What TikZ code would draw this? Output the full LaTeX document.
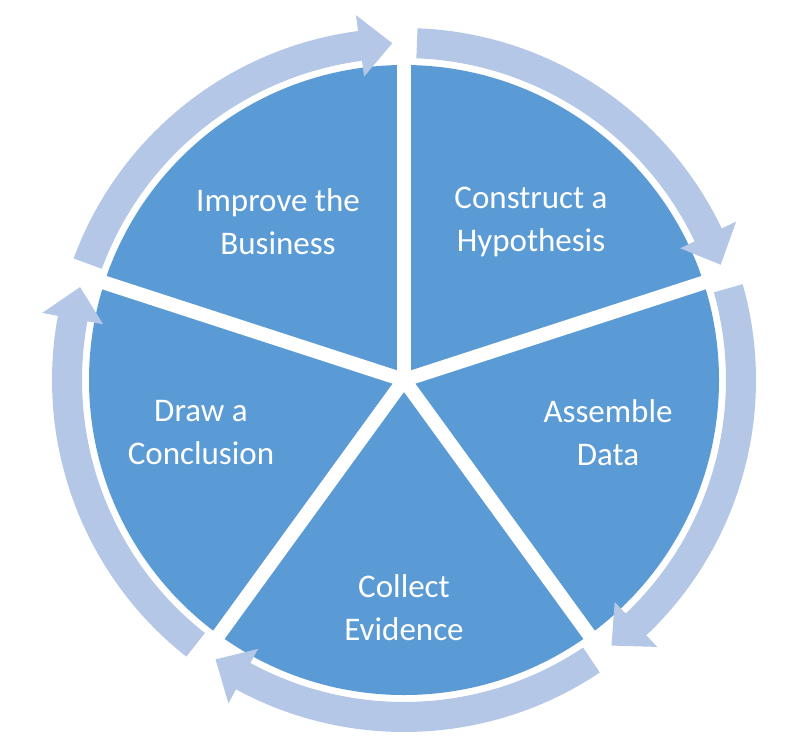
\documentclass[tikz,border=0pt]{standalone}
\usepackage{fontspec}
\setmainfont{Carlito}
\begin{document}
\begin{tikzpicture}[x=1pt,y=-1pt,
  lbl/.style={text=white,align=center,font=\fontsize{33}{43}\selectfont}]
\definecolor{pie}{HTML}{5B9BD5}
\definecolor{ring}{HTML}{B4C7E7}
\useasboundingbox (0,0) rectangle (799,747);
\coordinate (c) at (404,380);
\begin{scope}[y=1pt,shift={(404,-380)}]
\fill[pie] (0,0) circle (315);
\foreach \a in {90,18,-54,-126,162}{
  \draw[white,line width=14pt] (0,0) -- (\a:322);
}
\foreach \d in {90,18,-54,-126,162}{
  \pgfmathsetmacro{\s}{\d-2.2}
  \pgfmathsetmacro{\e}{\d-72+7.5}
  \pgfmathsetmacro{\t}{\d-72+2}
  \fill[ring] (\s:352) arc[start angle=\s,end angle=\e,radius=352]
     -- (\e:368) -- (\t:337) -- (\e:306) -- (\e:322)
     arc[start angle=\e,end angle=\s,radius=322] -- cycle;
}
\end{scope}
\node[lbl] (n1) at (278,222) {Improve the\\Business};
\node[lbl] (n2) at (531,222) {Construct a\\Hypothesis};
\node[lbl] (n3) at (608,433) {Assemble\\Data};
\node[lbl] (n4) at (404,608) {Collect\\Evidence};
\node[lbl] (n5) at (201,433) {Draw a\\Conclusion};
\end{tikzpicture}
\end{document}
